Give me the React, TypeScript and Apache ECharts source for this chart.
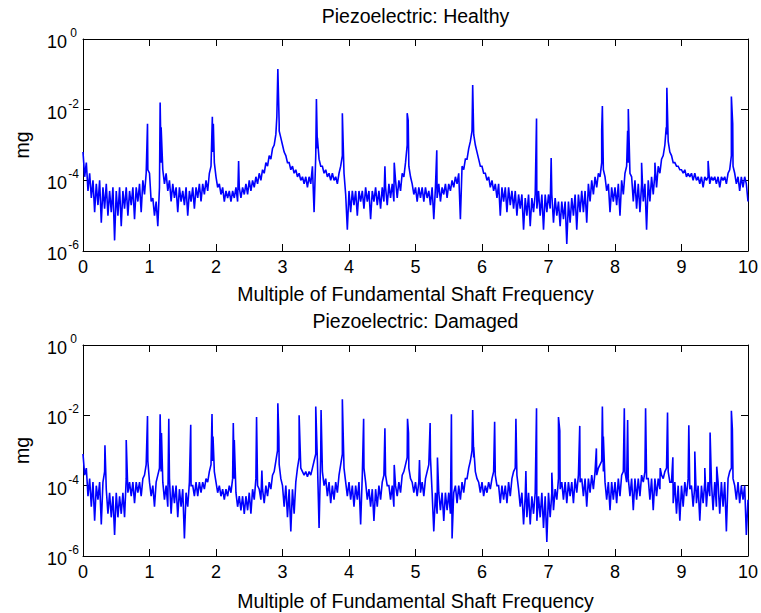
import { useEffect, useRef } from "react";
import * as echarts from "echarts";

// Frequency grid spacing (multiples of shaft frequency) for the broadband floor.
const STEP = 0.025;

// log10(mg) of the broadband floor, sampled every STEP from 0 to 10.
const healthyFloor = [
  -3.2, -3.9, -3.5, -4.3, -3.8, -4.5, -4.0, -4.9, -4.1, -4.7, -4.0, -5.2, -4.2, -4.8, -4.1, -5.0, -4.3, -4.9, -4.2, -5.7,
  -4.3, -5.0, -4.2, -5.3, -4.3, -4.8, -4.2, -5.0, -4.3, -4.7, -4.2, -5.1, -4.2, -4.6, -4.1, -4.9, -4.0, -4.4, -3.8, -3.7,
  -3.8, -4.6, -4.5, -5.0, -4.6, -5.3, -4.2, -3.5, -3.7, -4.1, -3.8, -4.3, -4.0, -4.6, -4.1, -4.5, -4.2, -4.9, -4.2, -4.6,
  -4.3, -4.7, -4.2, -5.0, -4.3, -4.6, -4.2, -4.8, -4.2, -4.5, -4.1, -4.6, -4.1, -4.4, -4.0, -4.3, -3.8, -3.6, -3.2, -3.5,
  -3.9, -4.2, -4.1, -4.4, -4.2, -4.6, -4.3, -4.5, -4.3, -4.6, -4.3, -4.5, -4.2, -4.6, -4.2, -4.5, -4.2, -4.4, -4.1, -4.4,
  -4.0, -4.3, -4.0, -4.2, -3.9, -4.1, -3.8, -4.0, -3.7, -3.8, -3.5, -3.6, -3.3, -3.4, -3.1, -3.0, -2.7, -2.2, -2.4, -2.8,
  -3.0, -3.2, -3.3, -3.5, -3.5, -3.7, -3.6, -3.8, -3.7, -3.9, -3.8, -4.0, -3.9, -4.1, -3.9, -4.2, -3.9, -4.1, -3.6, -4.9,
  -3.3, -3.1, -3.4, -3.6, -3.6, -3.8, -3.7, -3.9, -3.8, -4.0, -3.8, -4.0, -3.9, -4.1, -3.8, -3.6, -3.3, -3.8, -4.4, -5.4,
  -4.3, -4.9, -4.3, -4.7, -4.3, -5.0, -4.3, -4.6, -4.3, -4.8, -4.2, -4.6, -4.3, -5.1, -4.3, -4.6, -4.2, -4.7, -4.3, -4.8,
  -4.2, -4.6, -4.2, -4.7, -4.1, -4.5, -4.1, -4.6, -4.0, -4.5, -4.0, -4.3, -3.8, -3.9, -3.5, -3.0, -3.6, -3.9, -4.1, -4.4,
  -4.2, -4.6, -4.2, -4.5, -4.2, -4.6, -4.2, -4.5, -4.3, -4.7, -4.2, -5.1, -4.2, -4.5, -4.1, -4.6, -4.2, -4.4, -4.1, -4.5,
  -4.1, -4.3, -4.0, -4.2, -3.9, -4.1, -3.8, -5.1, -3.6, -3.7, -3.4, -3.4, -3.1, -2.9, -2.6, -2.7, -3.0, -3.2, -3.4, -3.6,
  -3.6, -3.8, -3.8, -4.0, -3.9, -4.2, -4.0, -4.3, -4.1, -4.5, -4.1, -5.0, -4.2, -4.6, -4.2, -4.9, -4.2, -4.7, -4.3, -4.8,
  -4.3, -5.0, -4.4, -4.8, -4.4, -5.4, -4.5, -5.0, -4.4, -5.3, -4.5, -4.9, -4.4, -4.8, -4.3, -5.0, -4.4, -5.4, -4.4, -4.9,
  -4.4, -4.8, -4.4, -5.2, -4.5, -5.0, -4.6, -5.3, -4.6, -5.1, -4.6, -5.8, -4.6, -5.2, -4.5, -5.0, -4.4, -5.4, -4.4, -4.9,
  -4.3, -4.9, -4.3, -5.2, -4.1, -4.6, -4.0, -4.4, -3.9, -4.2, -3.8, -3.9, -3.5, -3.7, -3.9, -4.3, -4.1, -4.9, -4.2, -4.6,
  -4.2, -4.7, -4.1, -5.0, -4.0, -4.4, -3.8, -3.6, -3.5, -3.8, -3.9, -4.6, -4.0, -4.8, -4.1, -4.9, -4.1, -4.6, -4.1, -5.4,
  -4.0, -4.6, -3.9, -4.4, -3.8, -4.2, -3.6, -3.8, -3.4, -3.3, -3.0, -2.7, -2.9, -3.2, -3.3, -3.5, -3.5, -3.6, -3.6, -3.7,
  -3.7, -3.8, -3.7, -3.9, -3.8, -3.9, -3.8, -4.0, -3.8, -4.0, -3.9, -4.1, -3.9, -4.2, -3.9, -4.0, -3.9, -4.1, -3.9, -4.0,
  -3.9, -4.1, -3.9, -4.2, -3.9, -4.0, -3.9, -4.1, -3.8, -3.7, -3.3, -3.6, -3.8, -4.1, -3.9, -4.3, -3.9, -4.2, -3.9, -4.1,
  -4.6,
];

// Narrow spectral lines: [multiple of shaft frequency, log10(mg)].
const healthyPeaks: [number, number][] = [
  [0.97, -2.4], [1.16, -1.8], [1.175, -2.5], [1.945, -2.2], [1.96, -2.4],
  [2.34, -3.45], [2.915, -2.2], [2.93, -0.85], [2.95, -2.6], [3.51, -1.7],
  [3.525, -2.8], [3.9, -2.1], [4.54, -3.6], [4.68, -3.5], [4.875, -2.1],
  [4.89, -2.3], [5.32, -3.15], [5.85, -2.6], [5.86, -1.3], [6.82, -2.25],
  [7.04, -3.37], [7.8, -2.6], [7.81, -1.9], [8.19, -2.6], [8.2, -1.98],
  [8.4, -3.5], [8.6, -3.5], [8.77, -2.5], [8.78, -1.38], [9.4, -3.45],
  [9.75, -1.63], [9.77, -2.4],
];

const damagedFloor = [
  -3.1, -3.7, -3.5, -4.3, -3.8, -4.6, -3.9, -5.0, -4.0, -4.4, -3.9, -5.1, -3.9, -3.6, -4.1, -4.8, -4.2, -4.9, -4.3, -5.4,
  -4.2, -4.9, -4.3, -4.8, -4.2, -4.9, -3.8, -4.2, -3.9, -4.3, -3.9, -4.5, -3.9, -4.2, -3.9, -4.3, -3.8, -3.7, -3.4, -3.3,
  -3.9, -4.3, -4.0, -4.6, -3.9, -3.7, -3.5, -3.6, -3.9, -4.4, -4.0, -4.6, -3.8, -4.8, -4.0, -4.5, -4.0, -4.9, -4.1, -4.6,
  -4.1, -5.5, -4.2, -4.6, -3.9, -4.0, -4.0, -4.3, -3.9, -4.3, -3.9, -4.2, -3.9, -4.1, -3.8, -3.9, -3.6, -3.4, -3.3, -3.6,
  -3.9, -4.2, -4.0, -4.3, -4.1, -4.4, -4.1, -4.3, -4.0, -4.2, -3.8, -3.8, -4.2, -4.6, -4.3, -4.7, -4.3, -4.8, -4.3, -4.7,
  -4.2, -4.8, -4.1, -4.4, -3.8, -4.0, -4.1, -4.4, -4.1, -4.5, -4.0, -4.3, -3.9, -4.1, -3.7, -3.6, -3.3, -3.0, -3.4, -3.8,
  -4.0, -4.6, -4.0, -4.9, -4.1, -5.3, -4.1, -4.8, -3.9, -3.5, -3.2, -3.5, -3.6, -3.7, -3.6, -3.75, -3.6, -3.7, -3.5, -3.3,
  -3.1, -3.3, -5.2, -3.1, -3.6, -4.0, -3.8, -4.3, -3.9, -4.5, -4.0, -4.4, -3.9, -4.2, -3.7, -3.4, -3.1, -3.5, -3.9, -4.3,
  -3.9, -4.4, -4.0, -4.6, -4.0, -4.4, -3.9, -5.1, -3.7, -3.5, -3.9, -4.4, -4.1, -4.6, -4.1, -5.0, -4.1, -4.6, -4.0, -4.4,
  -3.9, -3.7, -3.7, -4.0, -4.0, -4.4, -4.0, -4.6, -4.0, -4.3, -3.9, -4.2, -3.7, -3.6, -3.4, -3.2, -3.5, -3.8, -3.9, -4.2,
  -3.9, -4.3, -3.9, -4.2, -3.9, -4.3, -3.8, -3.6, -3.4, -3.2, -4.2, -5.3, -4.2, -4.8, -4.2, -4.7, -4.2, -5.0, -4.2, -4.7,
  -4.2, -4.8, -5.5, -4.2, -4.0, -4.5, -4.0, -4.4, -3.9, -4.2, -3.8, -3.8, -3.5, -3.3, -3.0, -3.2, -3.6, -3.8, -3.9, -4.2,
  -3.9, -4.3, -4.0, -4.2, -3.9, -4.1, -3.8, -3.6, -3.7, -4.0, -4.0, -4.5, -4.0, -4.4, -4.0, -4.5, -3.9, -4.3, -3.8, -3.6,
  -3.5, -3.7, -4.1, -4.6, -4.2, -5.1, -4.3, -4.9, -4.2, -5.1, -4.3, -4.8, -4.2, -5.0, -4.3, -4.9, -4.2, -5.2, -4.3, -5.6,
  -4.2, -4.9, -4.2, -4.7, -4.1, -4.4, -3.8, -4.1, -3.9, -4.4, -3.9, -4.5, -3.9, -4.3, -3.9, -4.5, -3.8, -4.2, -3.7, -3.9,
  -3.8, -4.3, -3.8, -4.6, -3.8, -4.2, -3.7, -4.1, -3.6, -3.7, -3.5, -3.4, -3.3, -3.6, -3.9, -4.4, -3.9, -4.7, -3.9, -4.4,
  -3.9, -4.5, -3.8, -4.3, -3.7, -3.6, -3.6, -3.9, -3.8, -4.3, -3.8, -4.7, -3.8, -4.4, -3.8, -4.3, -3.7, -3.9, -3.6, -3.8,
  -3.8, -4.4, -3.8, -4.7, -3.8, -4.3, -3.8, -4.1, -3.7, -3.8, -3.6, -3.5, -3.6, -3.9, -3.9, -4.5, -3.9, -4.8, -4.0, -5.0,
  -4.0, -4.6, -3.9, -4.3, -3.8, -4.1, -4.0, -4.6, -4.0, -4.5, -4.0, -5.0, -4.0, -4.5, -3.9, -4.6, -3.9, -4.3, -3.9, -4.7,
  -3.9, -4.6, -3.9, -4.8, -3.9, -4.6, -3.9, -5.3, -3.8, -3.6, -3.5, -3.8, -4.0, -4.4, -3.9, -4.5, -4.0, -4.4, -4.0, -5.4,
  -4.4,
];

const damagedPeaks: [number, number][] = [
  [0.33, -2.85], [0.65, -2.7], [0.97, -2.02], [1.16, -1.97], [1.18, -2.5],
  [1.29, -2.1], [1.62, -2.27], [1.94, -1.96], [1.955, -2.6], [2.26, -2.22],
  [2.275, -2.7], [2.61, -2.05], [2.69, -3.57], [2.93, -1.66], [2.945, -2.6],
  [3.25, -2.0], [3.5, -1.75], [3.58, -1.85], [3.9, -1.54], [4.22, -2.1],
  [4.54, -2.37], [4.68, -3.41], [4.88, -2.1], [4.895, -2.5], [5.06, -3.27],
  [5.22, -2.22], [5.33, -3.2], [5.54, -1.97], [5.86, -1.85], [5.875, -2.9],
  [6.19, -2.18], [6.51, -2.1], [6.66, -3.58], [6.82, -1.8], [7.05, -3.63],
  [7.15, -2.05], [7.17, -2.44], [7.47, -2.3], [7.72, -2.94], [7.81, -1.75],
  [7.825, -2.6], [8.14, -1.8], [8.19, -2.13], [8.46, -1.8], [8.68, -3.5],
  [8.79, -1.92], [8.87, -3.19], [9.11, -2.28], [9.2, -3.03], [9.35, -3.5],
  [9.43, -2.49], [9.53, -3.46], [9.75, -1.87], [9.765, -2.4],
];

const xTickLabels = ["0", "1", "2", "3", "4", "5", "6", "7", "8", "9", "10"];

const FONT = "'Liberation Sans', Arial, Helvetica, sans-serif";
const INK = "#000";
const TRACE = "#0000ff";

// Merge the floor samples with the spectral lines, ordered by frequency.
function spectrum(floor: number[], peaks: [number, number][]) {
  const pts: [number, number][] = floor.map((v, i) => [Number((i * STEP).toFixed(3)), v]);
  peaks.forEach((p) => pts.push([p[0], p[1]]));
  pts.sort((a, b) => a[0] - b[0]);
  return pts;
}

const lineStyle = { color: INK, width: 1 };

function xAxis(gridIndex: number, position: "top" | "bottom", labels: boolean) {
  return {
    type: "value",
    gridIndex,
    position,
    min: 0,
    max: 10,
    interval: 1,
    axisLine: { show: true, onZero: false, lineStyle },
    axisTick: { show: true, inside: true, length: 7, lineStyle },
    axisLabel: {
      show: labels,
      margin: 7,
      fontSize: 18,
      fontFamily: FONT,
      color: INK,
      formatter: (v: number) => xTickLabels[Math.round(v)] ?? "",
    },
    splitLine: { show: false },
  };
}

function yAxis(gridIndex: number, position: "left" | "right", labels: boolean) {
  return {
    type: "value",
    gridIndex,
    position,
    min: -6,
    max: 0,
    interval: 2,
    axisLine: { show: true, onZero: false, lineStyle },
    axisTick: { show: true, inside: true, length: 7, lineStyle },
    axisLabel: {
      show: labels,
      margin: 3,
      formatter: (v: number) => `{b|10}{s|${Math.round(v)}}`,
      rich: {
        b: { fontSize: 18, fontFamily: FONT, color: INK, verticalAlign: "bottom", lineHeight: 24 },
        s: { fontSize: 12, fontFamily: FONT, color: INK, verticalAlign: "top", lineHeight: 12, width: 13, align: "left" },
      },
    },
    splitLine: { show: false },
  };
}

function label(text: string, x: number, y: number, rotation = 0) {
  return {
    type: "text",
    x,
    y,
    rotation,
    silent: true,
    style: {
      text,
      fontSize: 19.5,
      fontFamily: FONT,
      fill: INK,
      align: "center",
      verticalAlign: "middle",
      textAlign: "center",
      textVerticalAlign: "middle",
    },
  };
}

function series(data: [number, number][], axisIndex: number) {
  return {
    type: "line",
    xAxisIndex: axisIndex,
    yAxisIndex: axisIndex,
    data,
    showSymbol: false,
    symbol: "none",
    silent: true,
    clip: true,
    lineStyle: { color: TRACE, width: 1.6, join: "miter", miterLimit: 2 },
  };
}

export default function App() {
  const ref = useRef<HTMLDivElement>(null);

  useEffect(() => {
    if (!ref.current) return;
    const chart = echarts.init(ref.current, null, { renderer: "svg" });
    chart.setOption({
      animation: false,
      backgroundColor: "#fff",
      grid: [
        { left: 83, top: 39, width: 665, height: 212, outerBoundsMode: "none" },
        { left: 83, top: 345, width: 665, height: 211, outerBoundsMode: "none" },
      ],
      xAxis: [xAxis(0, "bottom", true), xAxis(0, "top", false), xAxis(1, "bottom", true), xAxis(1, "top", false)],
      yAxis: [yAxis(0, "left", true), yAxis(0, "right", false), yAxis(1, "left", true), yAxis(1, "right", false)],
      series: [series(spectrum(healthyFloor, healthyPeaks), 0), series(spectrum(damagedFloor, damagedPeaks), 2)],
      graphic: [
        label("Piezoelectric: Healthy", 415.5, 16),
        label("Multiple of Fundamental Shaft Frequency", 415.5, 294),
        label("Piezoelectric: Damaged", 415.5, 321),
        label("Multiple of Fundamental Shaft Frequency", 415.5, 601),
        label("mg", 22, 145, Math.PI / 2),
        label("mg", 22, 450.5, Math.PI / 2),
      ],
    });
    return () => chart.dispose();
  }, []);

  return (
    <div
      ref={ref}
      style={{ position: "absolute", left: 0, top: 0, width: 761, height: 613, background: "#fff" }}
    />
  );
}
